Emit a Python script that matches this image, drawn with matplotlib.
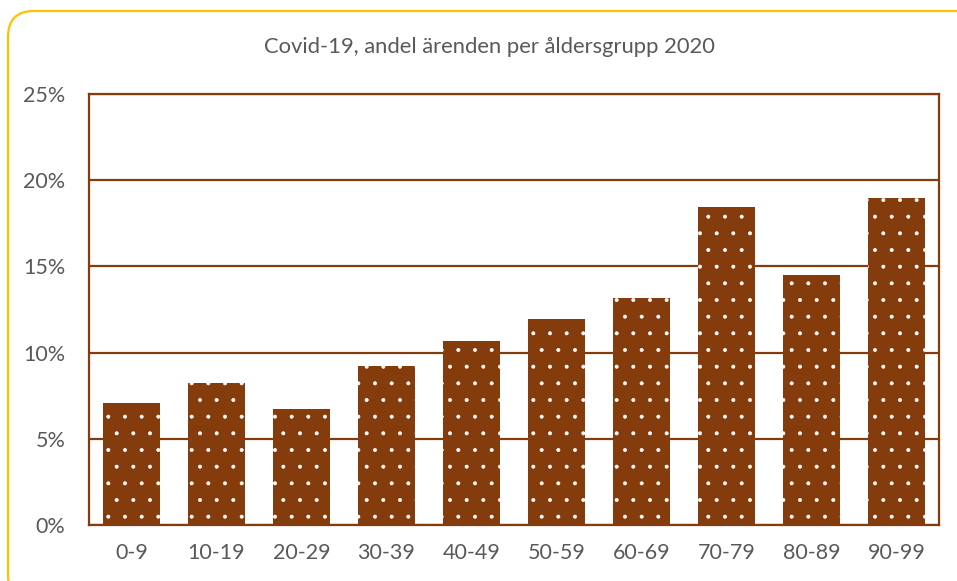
import matplotlib
matplotlib.use("Agg")
import matplotlib.pyplot as plt
from matplotlib.patches import FancyBboxPatch
from matplotlib.ticker import PercentFormatter

# ── data ──────────────────────────────────────────────────────────────────────
age_groups = ["0-9", "10-19", "20-29", "30-39", "40-49",
              "50-59", "60-69", "70-79", "80-89", "90-99"]
share_pct = [7.05, 8.25, 6.7, 9.25, 10.7, 11.95, 13.15, 18.45, 14.5, 18.95]
y_ticks = [0, 5, 10, 15, 20, 25]
title = "Covid-19, andel ärenden per åldersgrupp 2020"

BROWN = "#843C0C"
GRAY = "#595959"
GOLD = "#FFC000"

plt.rcParams["font.family"] = ["Lato", "DejaVu Sans"]
plt.rcParams["hatch.linewidth"] = 0.4

fig = plt.figure(figsize=(9.57, 5.81), dpi=100)
ax = fig.add_axes([89 / 957, 1 - 525 / 581, (939 - 89) / 957, (525 - 94) / 581])

x = range(len(age_groups))
ax.bar(x, share_pct, width=0.67, color=BROWN, edgecolor="white",
       linewidth=0, hatch=".", zorder=3)

ax.set_xlim(-0.5, len(age_groups) - 0.5)
ax.set_ylim(0, 25)
ax.set_yticks(y_ticks)
ax.yaxis.set_major_formatter(PercentFormatter(decimals=0))
ax.set_xticks(list(x))
ax.set_xticklabels(age_groups)
ax.tick_params(axis="both", length=0, labelsize=15.5, colors=GRAY)
ax.tick_params(axis="y", pad=17)
ax.tick_params(axis="x", pad=13)

ax.grid(axis="y", color=BROWN, linewidth=1.6, zorder=1)
for s in ax.spines.values():
    s.set_color(BROWN)
    s.set_linewidth(1.6)

fig.text(489 / 957, 1 - 47 / 581, title, ha="center", va="center",
         fontsize=15.8, color=GRAY)

# yellow rounded frame (pixel coords)
frame = FancyBboxPatch((8, -20), 980, 581 - 11 + 20,
                       boxstyle="round,pad=0,rounding_size=26",
                       transform=None, fill=False, edgecolor=GOLD,
                       linewidth=1.6, figure=fig)
fig.patches.append(frame)

fig.savefig("out.png", dpi=100)
